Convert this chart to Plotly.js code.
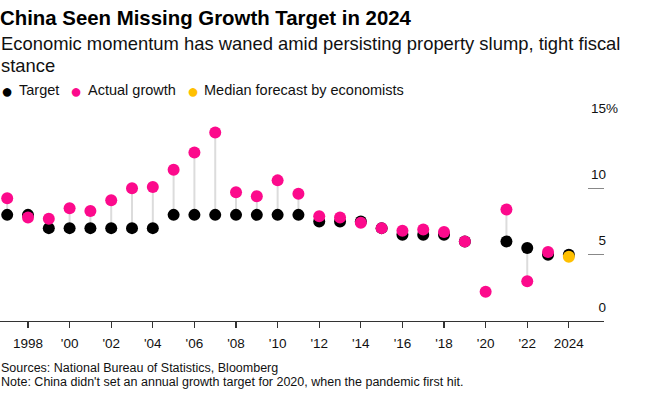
<!DOCTYPE html>
<html>
<head>
<meta charset="utf-8">
<script src="https://cdn.plot.ly/plotly-3.0.1.min.js"></script>
<style>html,body{margin:0;padding:0;background:#fff;}#chart{width:650px;height:402px;}</style>
</head>
<body>
<div id="chart"></div>
<script>
var years = [1997,1998,1999,2000,2001,2002,2003,2004,2005,2006,2007,2008,2009,2010,2011,2012,2013,2014,2015,2016,2017,2018,2019,2020,2021,2022,2023,2024];
var target = [8,8,7,7,7,7,7,7,8,8,8,8,8,8,8,7.5,7.5,7.5,7,6.5,6.5,6.5,6,null,6,5.5,5,5];
var actual = [9.25,7.8,7.7,8.5,8.3,9.1,10.0,10.1,11.4,12.7,14.2,9.7,9.4,10.6,9.6,7.9,7.8,7.4,7.0,6.8,6.9,6.7,6.0,2.2,8.4,3.0,5.2,null];
var forecastYears = [2024];
var forecast = [4.85];
var xTickVals = [1998,2000,2002,2004,2006,2008,2010,2012,2014,2016,2018,2020,2022,2024];
var xTickText = ["1998","'00","'02","'04","'06","'08","'10","'12","'14","'16","'18","'20","'22","2024"];
var yTickVals = [0,5,10,15];
var yTickText = ["0","5","10","15"];
var yTickSuffix = ["","","","%"];

var PINK = '#fc0a8c', YELLOW = '#ffc000', BLACK = '#000000';

// stems between target and actual
var sx = [], sy = [];
years.forEach(function(yr, i){
  if (target[i] != null && actual[i] != null) {
    sx.push(yr, yr, null);
    sy.push(target[i], actual[i], null);
  }
});

// y labels: numbers right-aligned, "%" hanging past the alignment edge
var yLabels = yTickText.map(function(t, i){
  return yTickSuffix[i] ? t + yTickSuffix[i] : t + '<span style="color:rgba(0,0,0,0)">%</span>';
});

var traces = [
  {x: sx, y: sy, mode: 'lines', line: {color: '#dcdcdc', width: 2}, hoverinfo: 'skip', showlegend: false, cliponaxis: false},
  {x: years, y: target, mode: 'markers', name: 'Target', marker: {color: BLACK, size: 12, line: {width: 0}}, showlegend: false, cliponaxis: false},
  {x: years, y: actual, mode: 'markers', name: 'Actual growth', marker: {color: PINK, size: 12, line: {width: 0}}, showlegend: false, cliponaxis: false},
  {x: forecastYears, y: forecast, mode: 'markers', name: 'Median forecast by economists', marker: {color: YELLOW, size: 12, line: {width: 0}}, showlegend: false, cliponaxis: false}
];

var FONT = 'Liberation Sans, Arial, sans-serif';
function py(p){ return (321 - p) / 199; }

var legendItems = [
  {dot: 6.7, text: 18, label: 'Target', color: BLACK},
  {dot: 76, text: 87, label: 'Actual growth', color: PINK},
  {dot: 193, text: 203, label: 'Median forecast by economists', color: YELLOW}
];
var W = 604;
var annotations = [
  {text: 'Economic momentum has waned amid persisting property slump, tight fiscal', x: 0, y: py(43.7), xanchor: 'left', yanchor: 'middle', font: {size: 18.4, color: '#111'}},
  {text: 'stance', x: 0, y: py(65.3), xanchor: 'left', yanchor: 'middle', font: {size: 18.4, color: '#111'}},
  {text: 'Sources: National Bureau of Statistics, Bloomberg', x: 0, y: py(367.6), xanchor: 'left', yanchor: 'middle', font: {size: 12.5, color: '#111'}},
  {text: "Note: China didn't set an annual growth target for 2020, when the pandemic first hit.", x: 0, y: py(382), xanchor: 'left', yanchor: 'middle', font: {size: 12.5, color: '#111'}}
];
legendItems.forEach(function(it){
  annotations.push({text: '●', x: it.dot / W, y: py(90.7), xanchor: 'center', yanchor: 'middle', font: {size: 20, color: it.color}});
  annotations.push({text: it.label, x: it.text / W, y: py(90.5), xanchor: 'left', yanchor: 'middle', font: {size: 14.5, color: '#111'}});
});
annotations.forEach(function(a){ a.xref = 'paper'; a.yref = 'paper'; a.showarrow = false; a.borderpad = 0; });

var layout = {
  width: 650, height: 402,
  margin: {l: 0, r: 46, t: 122, b: 81, pad: 0},
  paper_bgcolor: '#fff', plot_bgcolor: '#fff',
  font: {family: FONT, color: '#111'},
  title: {text: '<b>China Seen Missing Growth Target in 2024</b>', x: 0, xref: 'paper', xanchor: 'left', y: 1 - 17.9/402, yref: 'container', yanchor: 'middle', font: {size: 20.4, color: '#000', family: FONT}},
  showlegend: false,
  xaxis: {
    range: [1996.654, 2025.69], tickvals: xTickVals, ticktext: xTickText,
    showline: true, linecolor: '#333', linewidth: 1.3,
    ticks: 'outside', ticklen: 6, tickwidth: 1.3, tickcolor: '#333', ticklabelstandoff: 3,
    showgrid: false, zeroline: false, tickfont: {size: 13.5, color: '#111'}, fixedrange: true
  },
  yaxis: {
    range: [0, 15], side: 'right', tickvals: yTickVals, ticktext: yLabels,
    ticks: 'inside', ticklen: 16, tickwidth: 1.5, tickcolor: '#888',
    ticklabelposition: 'inside top', ticklabeloverflow: 'allow',
    ticklabelstandoff: -17, ticklabelshift: -4,
    showline: false, showgrid: false, zeroline: false, tickfont: {size: 13.5, color: '#111'}, fixedrange: true
  },
  annotations: annotations
};

Plotly.newPlot('chart', traces, layout, {displayModeBar: false, staticPlot: true});
</script>
</body>
</html>
